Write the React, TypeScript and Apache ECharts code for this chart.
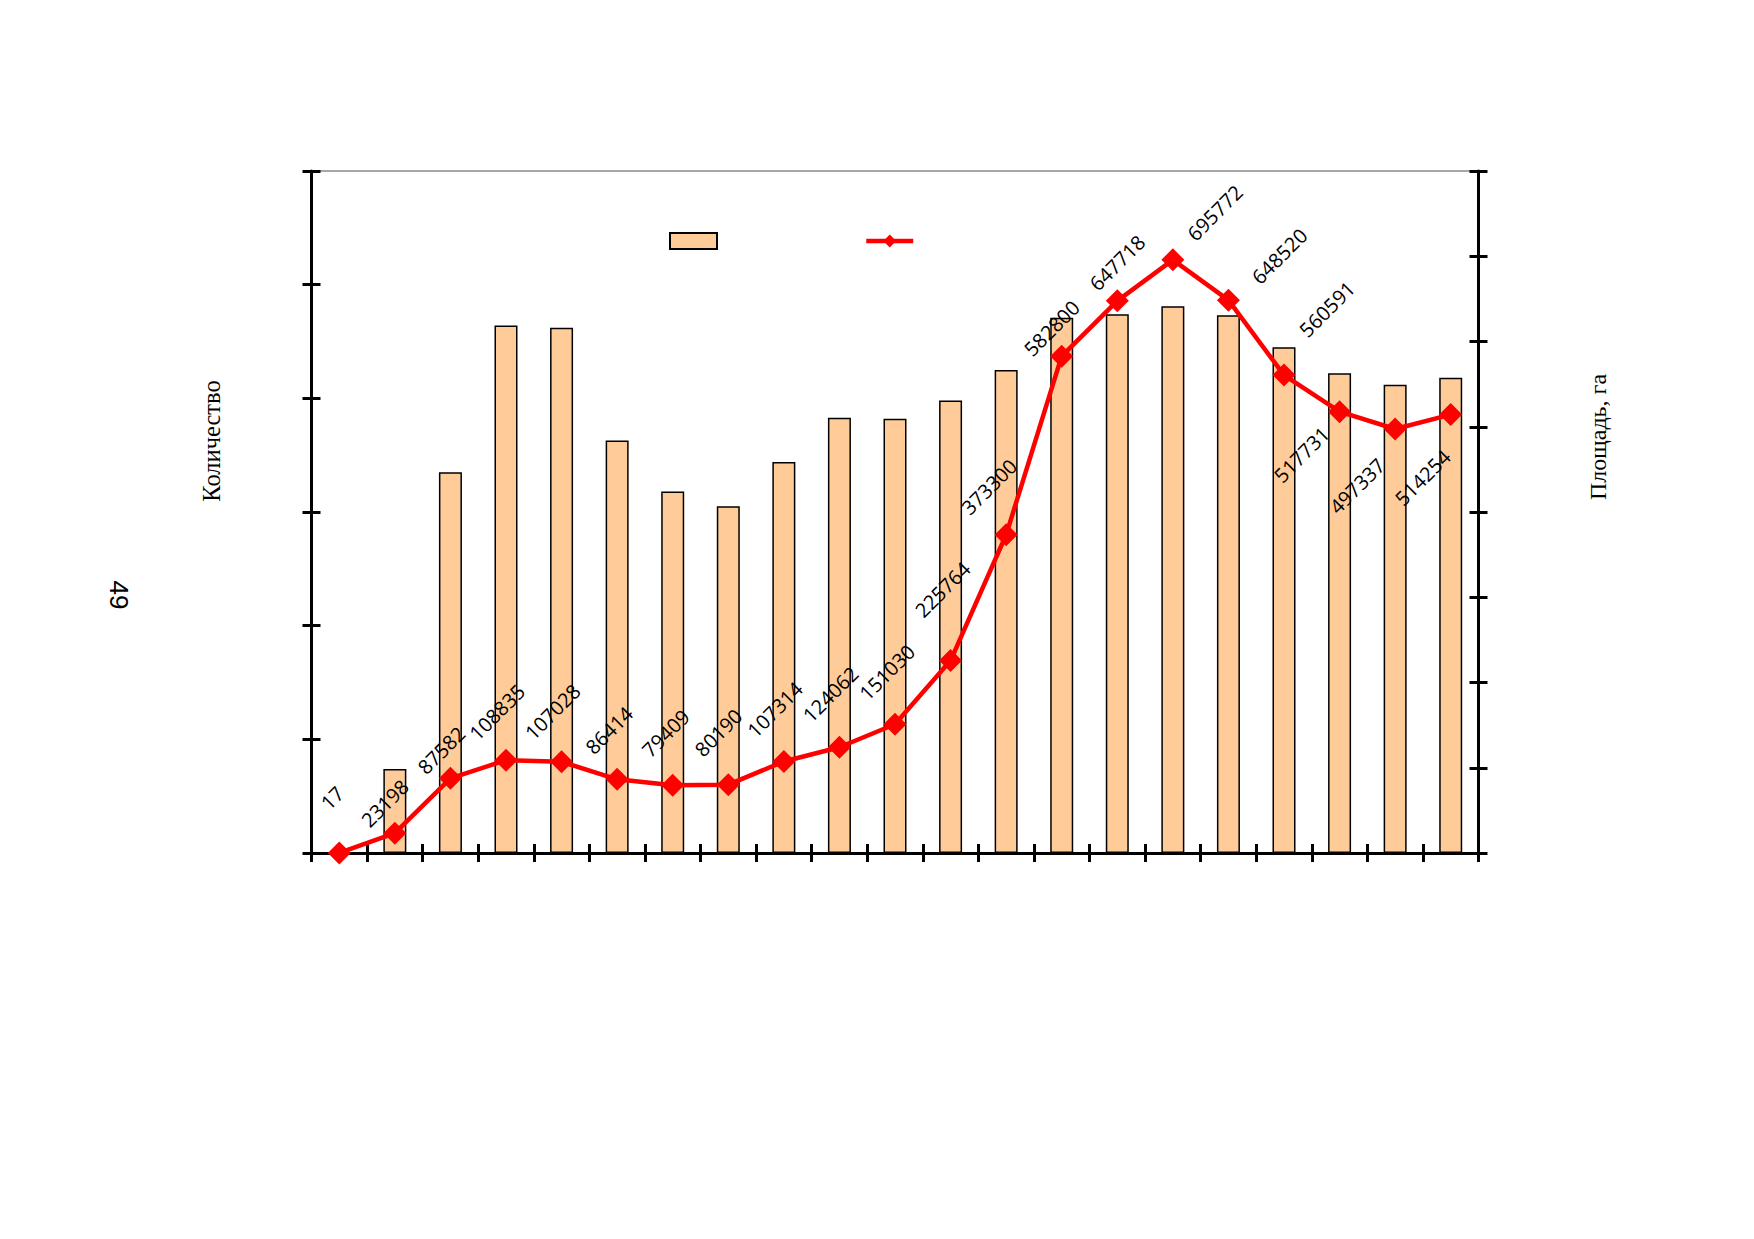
import React, { useEffect, useRef } from "react";
import * as echarts from "echarts";

// ---- data ----
const categories = [
  "1", "2", "3", "4", "5", "6", "7", "8", "9", "10", "11",
  "12", "13", "14", "15", "16", "17", "18", "19", "20", "21",
];
// Количество (left axis, no tick labels in the source – relative units)
const countValues = [
  0, 740, 3350, 4640, 4620, 3630, 3180, 3050, 3440, 3830, 3820,
  3980, 4250, 4710, 4740, 4810, 4730, 4450, 4220, 4120, 4180,
];
// Площадь, га (right axis)
const areaValues = [
  17, 23198, 87582, 108835, 107028, 86414, 79409, 80190, 107314, 124062, 151030,
  225764, 373300, 582800, 647718, 695772, 648520, 560591, 517731, 497337, 514254,
];
const countAxis = { min: 0, max: 6000, interval: 1000 };
const areaAxis = { min: 0, max: 800000, interval: 100000 };

const countName = "Количество";
const areaName = "Площадь, га";
const pageNumber = "49";

// ---- layout (label centre offsets from each point, px) ----
const labelOffsets: number[][] = [
  [-7, -55], [-10, -30], [-9, -28], [-9, -48], [-9, -50], [-8, -49], [-7, -52],
  [-10, -52], [-9, -52], [-9, -53], [-8, -52], [-8, -71], [-17, -48], [-10, -28],
  [0, -38], [42, -47], [51, -44], [43, -66], [-38, 43], [-38, 57], [-28, 63],
];

const W = 1754;
const H = 1239;
const GRID = { left: 311.5, right: W - 1478.5, top: 171, bottom: H - 853 };
const SYM = 23;

export default function App() {
  const ref = useRef<HTMLDivElement>(null);

  useEffect(() => {
    if (!ref.current) return;
    const chart = echarts.init(ref.current, null, { renderer: "svg" });

    const axisLine = { show: true, onZero: false, lineStyle: { color: "#000", width: 3 } };
    const tickStyle = { color: "#000", width: 3 };

    const lineData = areaValues.map((v, i) => ({
      value: v,
      label: {
        position: [labelOffsets[i][0] + SYM / 2, labelOffsets[i][1] + SYM / 2],
      },
    }));

    chart.setOption({
      animation: false,
      backgroundColor: "#fff",
      grid: {
        ...GRID,
        show: true,
        borderColor: "#8a8a8a",
        borderWidth: 1.5,
        backgroundColor: "transparent",
      },
      legend: {
        left: 669,
        top: 232,
        padding: 0,
        itemWidth: 47,
        itemHeight: 16,
        itemGap: 146,
        formatter: () => "",
        lineStyle: { width: 4.5 },
        data: [{ name: countName, icon: "rect" }, { name: areaName }],
        textStyle: { fontSize: 1 },
      },
      xAxis: [
        {
          type: "category",
          data: categories,
          position: "bottom",
          boundaryGap: true,
          axisLine,
          axisTick: { show: true, interval: 0, length: 9, inside: false, lineStyle: tickStyle },
          axisLabel: { show: false },
          splitLine: { show: false },
        },
        {
          type: "category",
          data: categories,
          position: "bottom",
          boundaryGap: true,
          axisLine: { show: false },
          axisTick: { show: true, interval: 0, length: 9, inside: true, lineStyle: tickStyle },
          axisLabel: { show: false },
          splitLine: { show: false },
        },
      ],
      yAxis: [
        {
          type: "value",
          position: "left",
          ...countAxis,
          axisLine,
          axisTick: { show: true, length: 9, inside: false, lineStyle: tickStyle },
          axisLabel: { show: false },
          splitLine: { show: false },
        },
        {
          type: "value",
          position: "right",
          ...areaAxis,
          axisLine,
          axisTick: { show: true, length: 9, inside: false, lineStyle: tickStyle },
          axisLabel: { show: false },
          splitLine: { show: false },
        },
        {
          type: "value",
          position: "left",
          ...countAxis,
          axisLine: { show: false },
          axisTick: { show: true, length: 9, inside: true, lineStyle: tickStyle },
          axisLabel: { show: false },
          splitLine: { show: false },
        },
        {
          type: "value",
          position: "right",
          ...areaAxis,
          axisLine: { show: false },
          axisTick: { show: true, length: 9, inside: true, lineStyle: tickStyle },
          axisLabel: { show: false },
          splitLine: { show: false },
        },
      ],
      series: [
        {
          name: countName,
          type: "bar",
          xAxisIndex: 0,
          yAxisIndex: 0,
          data: countValues,
          barWidth: 23,
          itemStyle: { color: "#FFCC99", borderColor: "#000", borderWidth: 1.5 },
        },
        {
          name: areaName,
          type: "line",
          xAxisIndex: 0,
          yAxisIndex: 1,
          data: lineData,
          clip: false,
          z: 5,
          symbol: "diamond",
          symbolSize: SYM,
          lineStyle: { color: "#FF0000", width: 4.5 },
          itemStyle: { color: "#FF0000" },
          label: {
            show: true,
            rotate: 45,
            align: "center",
            verticalAlign: "middle",
            formatter: "{c}",
            fontFamily: "'Open Sans', 'DejaVu Sans', sans-serif",
            fontWeight: "normal",
            fontSize: 20,
            color: "#000",
          },
        },
      ],
      graphic: [
        {
          type: "text",
          x: 211,
          y: 441,
          rotation: Math.PI / 2,
          style: {
            text: countName,
            font: "24.5px 'Liberation Serif', serif",
            fill: "#000",
            align: "center",
            verticalAlign: "middle",
          },
        },
        {
          type: "text",
          x: 1598,
          y: 437,
          rotation: Math.PI / 2,
          style: {
            text: areaName,
            font: "24px 'Liberation Serif', serif",
            fill: "#000",
            align: "center",
            verticalAlign: "middle",
          },
        },
        {
          type: "text",
          x: 119,
          y: 595,
          rotation: -Math.PI / 2,
          style: {
            text: pageNumber,
            font: "26px 'Liberation Sans', sans-serif",
            fill: "#000",
            align: "center",
            verticalAlign: "middle",
          },
        },
      ],
    });

    return () => chart.dispose();
  }, []);

  return (
    <div
      ref={ref}
      style={{ position: "absolute", left: 0, top: 0, width: W, height: H, background: "#fff" }}
    />
  );
}
